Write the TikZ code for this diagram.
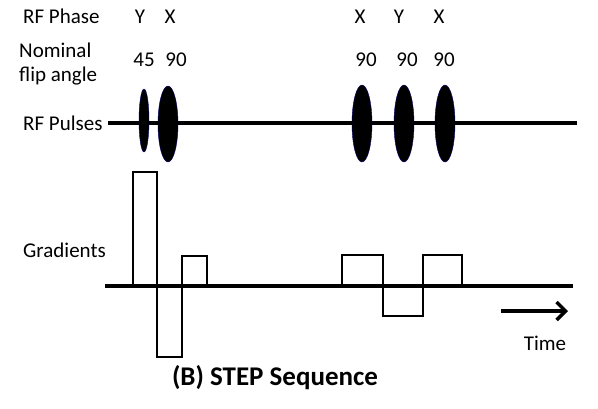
\documentclass[tikz,border=0pt]{standalone}
\usepackage{fontspec}
\setmainfont{Carlito}
\usetikzlibrary{shapes.geometric,arrows.meta}

\begin{document}
\begin{tikzpicture}[x=1pt,y=-1pt,
  lbl/.style={font=\fontsize{21}{24}\selectfont, inner sep=0pt},
  pulse/.style={ellipse, fill=black, draw=blue!40!black, line width=0.4pt, inner sep=0pt},
  grad/.style={line width=2.8pt, line join=miter}]
\useasboundingbox (0,0) rectangle (598,408);

% Row labels
\node[lbl, anchor=west] (phase) at (23,16) {RF Phase};
\node[lbl, anchor=west, align=left] (flip) at (19,64) {Nominal\\flip angle};
\node[lbl, anchor=west] (rflbl) at (23,123) {RF Pulses};
\node[lbl, anchor=west] (gradlbl) at (23,250) {Gradients};

% RF axis
\coordinate (rfstart) at (108,123);
\coordinate (rfend) at (577,123);
\draw[line width=4pt] (rfstart) -- (rfend);

% RF pulses
\node[pulse, minimum width=10, minimum height=63] (p1) at (144,120.5) {};
\node[pulse, minimum width=20, minimum height=76] (p2) at (168,124) {};
\node[pulse, minimum width=20, minimum height=77] (p3) at (362,123.5) {};
\node[pulse, minimum width=20, minimum height=77] (p4) at (404,123.5) {};
\node[pulse, minimum width=20, minimum height=77] (p5) at (445,123.5) {};

% Phases
\node[lbl] (ph1) at (140,17) {Y};
\node[lbl] (ph2) at (170,17) {X};
\node[lbl] (ph3) at (360,17) {X};
\node[lbl] (ph4) at (399,17) {Y};
\node[lbl] (ph5) at (439,17) {X};

% Flip angles
\node[lbl] (fa1) at (144,60) {45};
\node[lbl] (fa2) at (176,60) {90};
\node[lbl] (fa3) at (366,60) {90};
\node[lbl] (fa4) at (407,60) {90};
\node[lbl] (fa5) at (444,60) {90};

% Gradient axis
\coordinate (gstart) at (105,286);
\coordinate (gend) at (573,286);
\draw[line width=3.5pt] (gstart) -- (gend);

% Gradient lobes
\draw[grad] (133,286) -- (133,172) -- (157,172) -- (157,357) -- (182,357) -- (182,256) -- (207,256) -- (207,286);
\draw[grad] (342,286) -- (342,255) -- (383,255) -- (383,316) -- (423,316) -- (423,255) -- (462,255) -- (462,286);

% Time arrow
\coordinate (tstart) at (501,311);
\coordinate (tend) at (568,311);
\draw[line width=3.5pt, -{Straight Barb[length=9pt,width=18pt]}] (tstart) -- (tend);
\node[lbl] (time) at (545,343) {Time};

% Title
\node[font=\fontsize{27}{30}\selectfont\bfseries, inner sep=0pt] (title) at (275,378) {(B) STEP Sequence};
\end{tikzpicture}
\end{document}
